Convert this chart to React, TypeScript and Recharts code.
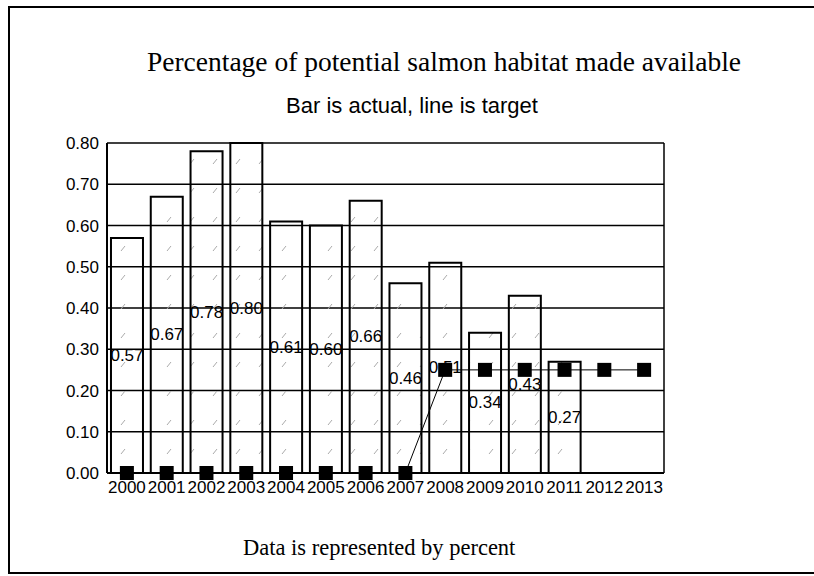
import React from 'react';
import { ComposedChart, Bar, Line, XAxis, YAxis, CartesianGrid, LabelList } from 'recharts';

const years = ['2000', '2001', '2002', '2003', '2004', '2005', '2006', '2007', '2008', '2009', '2010', '2011', '2012', '2013'];
const actual = [0.57, 0.67, 0.78, 0.8, 0.61, 0.6, 0.66, 0.46, 0.51, 0.34, 0.43, 0.27, null, null];
const target = [0, 0, 0, 0, 0, 0, 0, 0, 0.25, 0.25, 0.25, 0.25, 0.25, 0.25];
const yTicks = [0, 0.1, 0.2, 0.3, 0.4, 0.5, 0.6, 0.7, 0.8];

const data = years.map((year, i) => ({ year, actual: actual[i], target: target[i] }));

const sans = '"Liberation Sans", Arial, sans-serif';
const serif = '"Liberation Serif", "Times New Roman", serif';

// black square marker like the old spreadsheet chart
const SquareDot = (props: any) => {
  const { cx, cy, index } = props;
  if (cx == null || cy == null) return null;
  return <rect key={`dot-${index}`} x={cx - 7} y={cy - 7} width={14} height={14} fill="#000" />;
};

// value printed in the middle of each bar
const BarValue = (props: any) => {
  const { x, y, width, height, value } = props;
  if (value == null) return null;
  return (
    <text
      x={x + width / 2}
      y={y + height / 2}
      textAnchor="middle"
      dominantBaseline="central"
      fill="#000"
      fontSize={17}
      fontFamily={sans}
    >
      {Number(value).toFixed(2)}
    </text>
  );
};

const App: React.FC = () => {
  return (
    <div style={{ position: 'absolute', left: 0, top: 0, width: 814, height: 576, background: '#fff', overflow: 'hidden' }}>
      <div
        style={{
          position: 'absolute',
          left: 8,
          top: 6,
          width: 830,
          height: 564,
          borderLeft: '2px solid #000',
          borderTop: '2px solid #000',
          borderBottom: '2px solid #000',
        }}
      />
      <div style={{ position: 'absolute', left: 0, width: 888, top: 46, textAlign: 'center', fontFamily: serif, fontSize: 27.5, color: '#000' }}>
        Percentage of potential salmon habitat made available
      </div>
      <div style={{ position: 'absolute', left: 0, width: 824, top: 93, textAlign: 'center', fontFamily: sans, fontSize: 22, color: '#000' }}>
        Bar is actual, line is target
      </div>
      <div style={{ position: 'absolute', left: 243, top: 535, fontFamily: serif, fontSize: 22.5, color: '#000' }}>
        Data is represented by percent
      </div>
      <div style={{ position: 'absolute', left: 0, top: 0 }}>
        <ComposedChart width={814} height={576} data={data} margin={{ top: 143, right: 150, bottom: 73, left: 47 }} barCategoryGap="10%">
          <defs>
            <pattern id="scan" width="23" height="29" patternUnits="userSpaceOnUse">
              <line x1="6" y1="19" x2="10" y2="14" stroke="#aaa" strokeWidth={1} />
            </pattern>
          </defs>
          <CartesianGrid
            stroke="#000"
            strokeWidth={1.5}
            verticalCoordinatesGenerator={({ offset }: any) => [offset.left + offset.width]}
          />
          <XAxis
            dataKey="year"
            interval={0}
            tickLine={false}
            axisLine={{ stroke: '#000', strokeWidth: 2 }}
            tick={{ fill: '#000', fontSize: 17, fontFamily: sans }}
            height={30}
          />
          <YAxis
            domain={[0, 0.8]}
            ticks={yTicks}
            tickFormatter={(v: number) => v.toFixed(2)}
            tickLine={false}
            axisLine={{ stroke: '#000', strokeWidth: 2 }}
            tick={{ fill: '#000', fontSize: 17, fontFamily: sans }}
            width={60}
          />
          <Bar dataKey="actual" fill="url(#scan)" stroke="#000" strokeWidth={2} isAnimationActive={false}>
            <LabelList dataKey="actual" content={BarValue} />
          </Bar>
          <Line
            dataKey="target"
            stroke="#000"
            strokeWidth={1}
            dot={SquareDot}
            activeDot={false}
            isAnimationActive={false}
          />
        </ComposedChart>
      </div>
    </div>
  );
};

export default App;
